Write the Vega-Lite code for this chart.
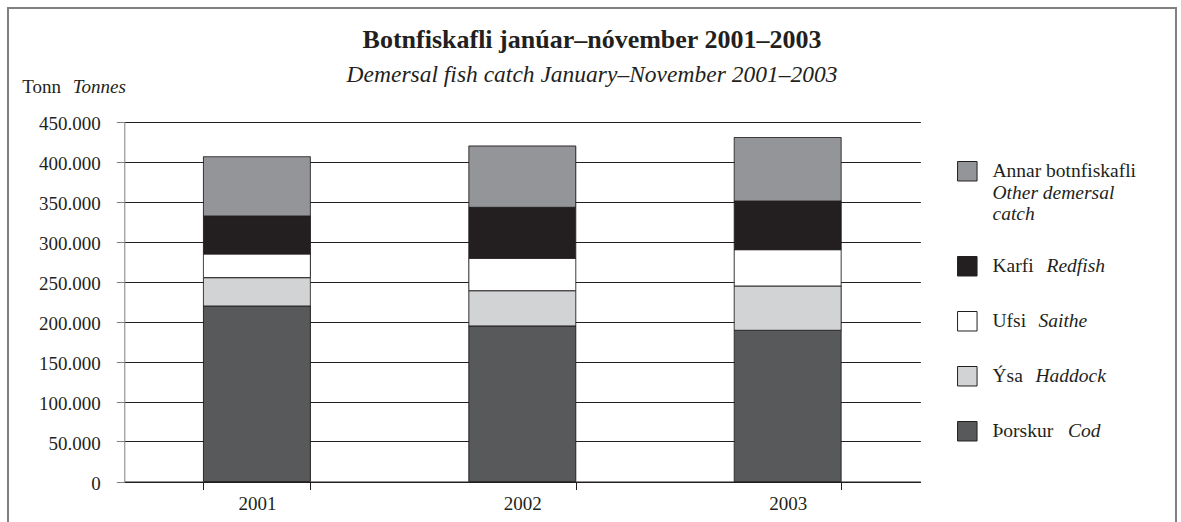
{
  "$schema": "https://vega.github.io/schema/vega-lite/v6.json",
  "width": 1168,
  "height": 530,
  "autosize": {"type": "none"},
  "padding": {"left": 8, "top": 8, "right": 5, "bottom": 0},
  "background": "white",
  "title": {
    "text": "Botnfiskafli janúar–nóvember 2001–2003",
    "subtitle": "Demersal fish catch January–November 2001–2003",
    "anchor": "middle",
    "frame": "group",
    "offset": -78,
    "font": "Liberation Serif",
    "fontSize": 26,
    "fontWeight": "bold",
    "color": "#231f20",
    "subtitleFont": "Liberation Serif",
    "subtitleFontSize": 23.5,
    "subtitleFontStyle": "italic",
    "subtitleColor": "#231f20",
    "subtitlePadding": 10
  },
  "data": {
    "values": [
      {"year": "2001", "type": "Þorskur", "en": "Cod", "tonnes": 219400},
      {"year": "2001", "type": "Ýsa", "en": "Haddock", "tonnes": 35400},
      {"year": "2001", "type": "Ufsi", "en": "Saithe", "tonnes": 29600},
      {"year": "2001", "type": "Karfi", "en": "Redfish", "tonnes": 47500},
      {"year": "2001", "type": "Annar botnfiskafli", "en": "Other demersal catch", "tonnes": 74100},
      {"year": "2002", "type": "Þorskur", "en": "Cod", "tonnes": 194400},
      {"year": "2002", "type": "Ýsa", "en": "Haddock", "tonnes": 44100},
      {"year": "2002", "type": "Ufsi", "en": "Saithe", "tonnes": 40500},
      {"year": "2002", "type": "Karfi", "en": "Redfish", "tonnes": 63700},
      {"year": "2002", "type": "Annar botnfiskafli", "en": "Other demersal catch", "tonnes": 76700},
      {"year": "2003", "type": "Þorskur", "en": "Cod", "tonnes": 189000},
      {"year": "2003", "type": "Ýsa", "en": "Haddock", "tonnes": 55400},
      {"year": "2003", "type": "Ufsi", "en": "Saithe", "tonnes": 45400},
      {"year": "2003", "type": "Karfi", "en": "Redfish", "tonnes": 60800},
      {"year": "2003", "type": "Annar botnfiskafli", "en": "Other demersal catch", "tonnes": 79400}
    ]
  },
  "mark": {"type": "bar", "stroke": "#231f20", "strokeWidth": 1},
  "encoding": {
    "x": {
      "field": "year",
      "type": "ordinal",
      "scale": {"range": [116.2, 912.4], "paddingInner": 0.597, "paddingOuter": 0.2985},
      "axis": {
        "title": "Tonn",
        "titleX": 13.7,
        "titleY": -389,
        "titleAlign": "left",
        "titleBaseline": "alphabetic",
        "titleAngle": 0,
        "titleFont": "Liberation Serif",
        "titleFontSize": 19,
        "titleFontWeight": "normal",
        "titleColor": "#231f20",
        "offset": -56.5,
        "labelAngle": 0,
        "labelFont": "Liberation Serif",
        "labelFontSize": 19,
        "labelColor": "#231f20",
        "labelPadding": 4.5,
        "tickBand": "extent",
        "tickSize": 8,
        "tickColor": "#231f20",
        "domainColor": "#231f20",
        "grid": false
      }
    },
    "y": {
      "field": "tonnes",
      "type": "quantitative",
      "stack": "zero",
      "scale": {"domain": [0, 450000], "range": [473.5, 113.5], "nice": false},
      "axis": {
        "title": "Tonnes",
        "titleX": -52,
        "titleY": 84.5,
        "titleAlign": "left",
        "titleBaseline": "alphabetic",
        "titleAngle": 0,
        "titleFont": "Liberation Serif",
        "titleFontSize": 19,
        "titleFontStyle": "italic",
        "titleFontWeight": "normal",
        "titleColor": "#231f20",
        "offset": -116.3,
        "values": [0, 50000, 100000, 150000, 200000, 250000, 300000, 350000, 400000, 450000],
        "labelExpr": "replace(format(datum.value, ','), ',', '.')",
        "labelFont": "Liberation Serif",
        "labelFontSize": 19,
        "labelColor": "#231f20",
        "labelPadding": 16,
        "labelOffset": 2,
        "tickSize": 8,
        "tickColor": "#808080",
        "domainColor": "#808080",
        "grid": true,
        "gridColor": "#231f20",
        "gridWidth": 1
      }
    },
    "color": {
      "field": "type",
      "type": "nominal",
      "scale": {
        "domain": ["Annar botnfiskafli", "Karfi", "Ufsi", "Ýsa", "Þorskur"],
        "range": ["#939598", "#231f20", "#ffffff", "#d1d3d4", "#58595b"]
      },
      "legend": {
        "title": null,
        "orient": "none",
        "legendX": 948.8,
        "legendY": 152.75,
        "padding": 0,
        "symbolType": "square",
        "symbolSize": 380,
        "symbolStrokeColor": "#231f20",
        "symbolStrokeWidth": 1,
        "symbolOpacity": 1,
        "labelFont": "Liberation Serif",
        "labelFontSize": 19.5,
        "labelColor": "#231f20",
        "labelOffset": 14.7,
        "labelLimit": 400,
        "rowPadding": 30,
        "labelExpr": "datum.value == 'Annar botnfiskafli' ? ['Annar botnfiskafli', ' ', ' '] : datum.label"
      }
    },
    "strokeDash": {
      "field": "en",
      "type": "nominal",
      "scale": {
        "domain": ["Other demersal catch", "Redfish", "Saithe", "Haddock", "Cod"],
        "range": [[1, 0], [1, 0], [1, 0], [1, 0], [1, 0]]
      },
      "legend": {
        "title": null,
        "orient": "none",
        "legendX": 948.8,
        "legendY": 152.75,
        "padding": 0,
        "symbolType": "square",
        "symbolSize": 380,
        "symbolStrokeWidth": 1,
        "symbolOpacity": 1,
        "symbolFillColor": "rgba(255,255,255,0)",
        "symbolStrokeColor": "rgba(255,255,255,0)",
        "labelFont": "Liberation Serif",
        "labelFontSize": 19.5,
        "labelFontStyle": "italic",
        "labelColor": "#231f20",
        "labelOffset": 14.7,
        "labelLimit": 400,
        "rowPadding": 30,
        "labelExpr": "datum.value == 'Other demersal catch' ? [' ', 'Other demersal', 'catch'] : datum.label",
        "encode": {
          "labels": {
            "update": {
              "dx": {"signal": "datum.value == 'Redfish' ? 54 : datum.value == 'Saithe' ? 46 : datum.value == 'Haddock' ? 43 : datum.value == 'Cod' ? 75.5 : 0"}
            }
          },
          "symbols": {
            "update": {
              "fill": {"value": "rgba(255,255,255,0)"},
              "stroke": {"value": "rgba(255,255,255,0)"}
            }
          }
        }
      }
    },
    "order": {"field": "type", "sort": "descending"}
  },
  "config": {
    "view": {"stroke": "#808080", "strokeWidth": 2},
    "font": "Liberation Serif"
  }
}
